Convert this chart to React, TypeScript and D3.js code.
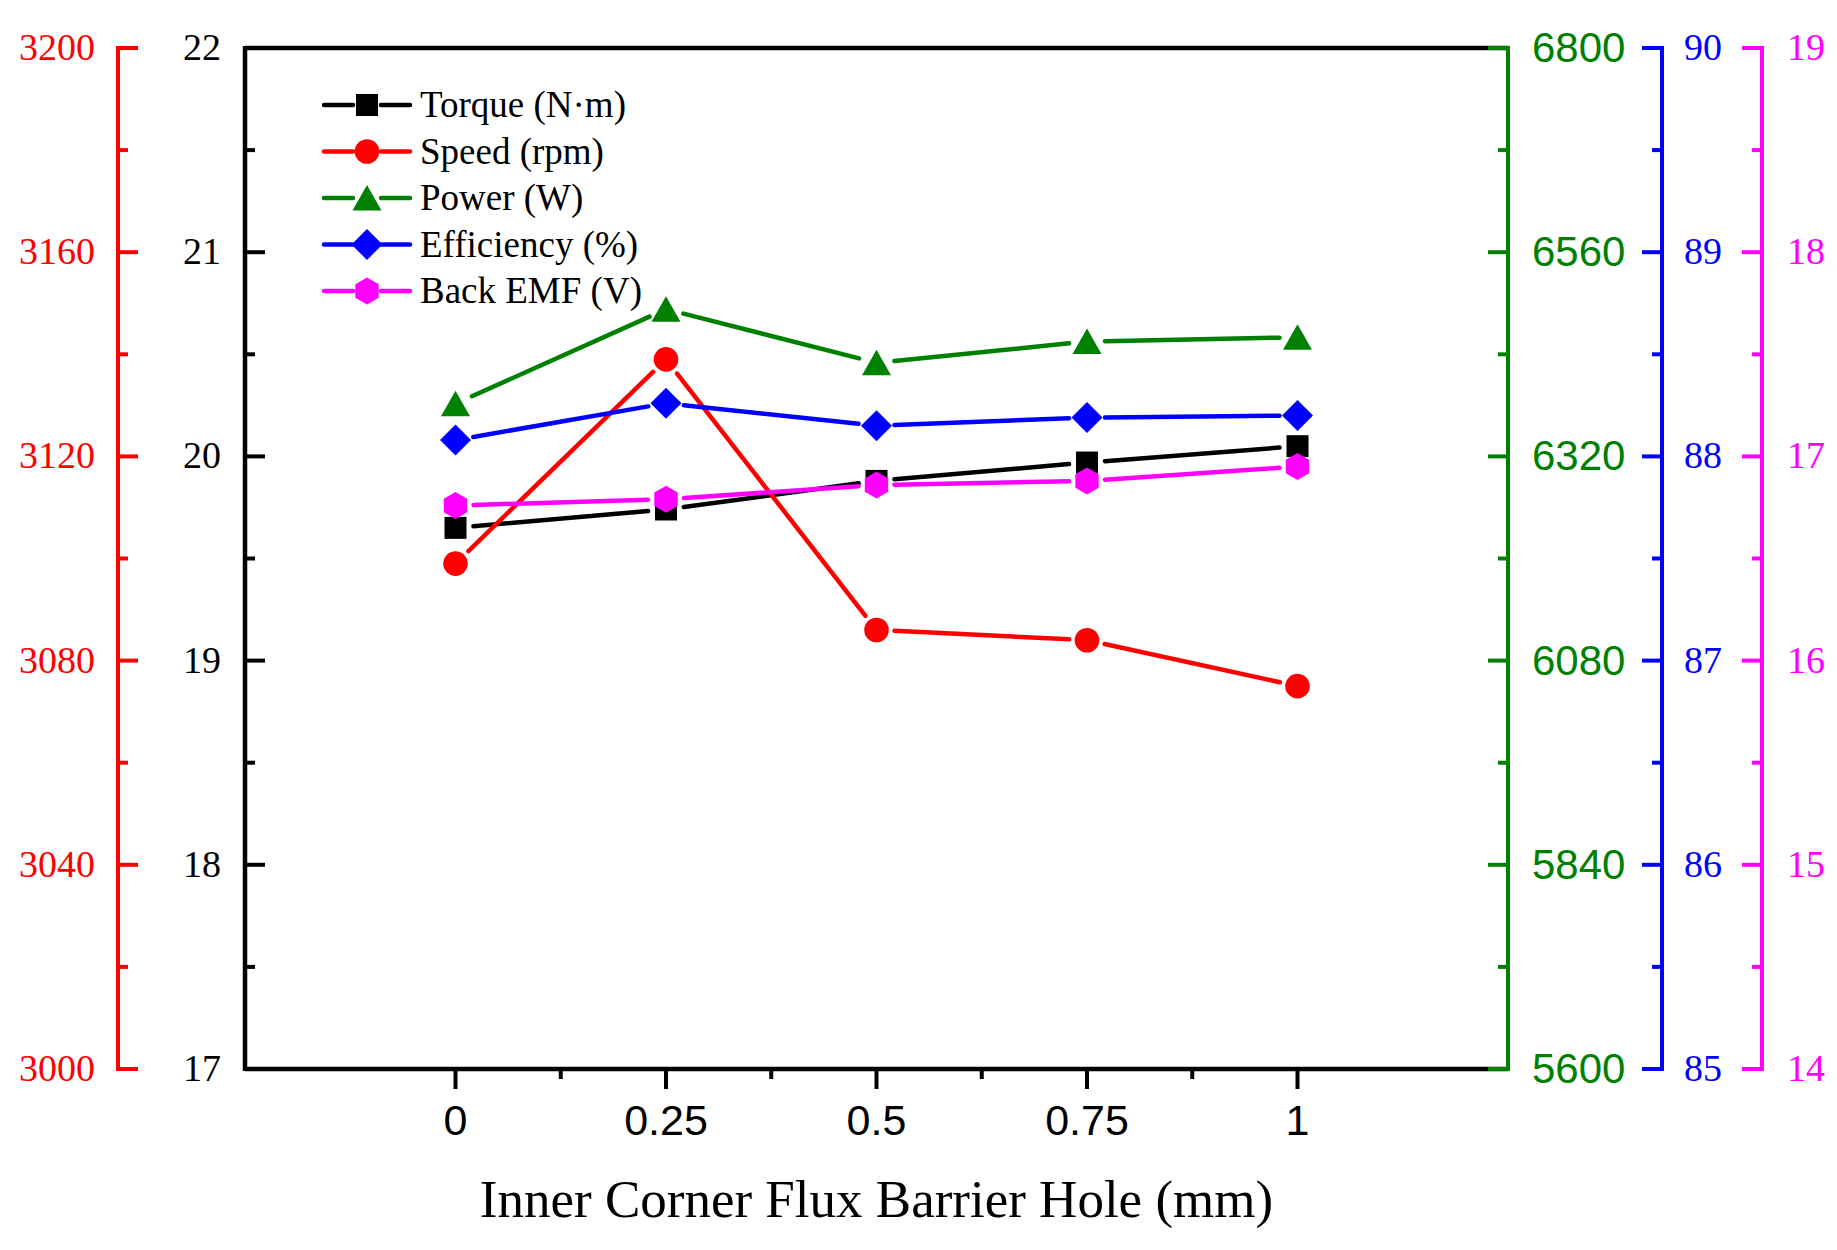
import React from "react";
import { scaleLinear, line } from "d3";

// x positions (mm) and the five measured series
const holeSizes = [0, 0.25, 0.5, 0.75, 1];
const xTickLabels = ["0", "0.25", "0.5", "0.75", "1"];
const torque = [19.65, 19.74, 19.88, 19.97, 20.05];
const speed = [3099, 3139, 3086, 3084, 3075];
const power = [6382, 6493, 6430, 6455, 6460];
const efficiency = [88.08, 88.26, 88.15, 88.19, 88.2];
const backEmf = [16.76, 16.79, 16.86, 16.88, 16.95];

const torqueTicks = [17, 18, 19, 20, 21, 22];
const speedTicks = [3000, 3040, 3080, 3120, 3160, 3200];
const powerTicks = [5600, 5840, 6080, 6320, 6560, 6800];
const effTicks = [85, 86, 87, 88, 89, 90];
const emfTicks = [14, 15, 16, 17, 18, 19];

const W = 1837;
const H = 1250;
const left = 245;
const right = 1508;
const top = 48;
const bottom = 1069;

const SERIF = "'Liberation Serif', 'Times New Roman', serif";
const SANS = "'Liberation Sans', Arial, sans-serif";

const x = scaleLinear().domain([-0.25, 1.25]).range([left, right]);
const yTorque = scaleLinear().domain([17, 22]).range([bottom, top]);
const ySpeed = scaleLinear().domain([3000, 3200]).range([bottom, top]);
const yPower = scaleLinear().domain([5600, 6800]).range([bottom, top]);
const yEff = scaleLinear().domain([85, 90]).range([bottom, top]);
const yEmf = scaleLinear().domain([14, 19]).range([bottom, top]);

type Shape = "square" | "circle" | "triangle" | "diamond" | "hexagon";

const marker = (shape: Shape, cx: number, cy: number) => {
  switch (shape) {
    case "square":
      return `M${cx - 11},${cy - 11}h22v22h-22Z`;
    case "circle":
      return `M${cx - 12.3},${cy}a12.3,12.3 0 1,0 24.6,0a12.3,12.3 0 1,0 -24.6,0Z`;
    case "triangle":
      return `M${cx},${cy - 13}L${cx + 14.5},${cy + 12.5}L${cx - 14.5},${cy + 12.5}Z`;
    case "diamond":
      return `M${cx},${cy - 15.5}L${cx + 15.5},${cy}L${cx},${cy + 15.5}L${cx - 15.5},${cy}Z`;
    case "hexagon": {
      const r = 13.5;
      const pts = [0, 1, 2, 3, 4, 5].map((i) => {
        const a = -Math.PI / 2 + (i * Math.PI) / 3;
        return `${cx + r * Math.cos(a)},${cy + r * Math.sin(a)}`;
      });
      return `M${pts.join("L")}Z`;
    }
  }
};

const series = [
  { name: "Torque (N·m)", values: torque, y: yTorque, color: "#000000", shape: "square" as Shape },
  { name: "Speed (rpm)", values: speed, y: ySpeed, color: "#FF0000", shape: "circle" as Shape },
  { name: "Power (W)", values: power, y: yPower, color: "#008000", shape: "triangle" as Shape },
  { name: "Efficiency (%)", values: efficiency, y: yEff, color: "#0000FF", shape: "diamond" as Shape },
  { name: "Back EMF (V)", values: backEmf, y: yEmf, color: "#FF00FF", shape: "hexagon" as Shape },
];

// line segments with a small gap around each symbol, like Origin draws them
const gapped = (pts: [number, number][], gap: number) => {
  const segs: string[] = [];
  const seg = line();
  for (let i = 0; i < pts.length - 1; i++) {
    const [x0, y0] = pts[i];
    const [x1, y1] = pts[i + 1];
    const len = Math.hypot(x1 - x0, y1 - y0);
    const ux = (x1 - x0) / len;
    const uy = (y1 - y0) / len;
    segs.push(
      seg([
        [x0 + ux * gap, y0 + uy * gap],
        [x1 - ux * gap, y1 - uy * gap],
      ]) as string
    );
  }
  return segs;
};

const mids = (ticks: number[]) => ticks.slice(0, -1).map((t, i) => (t + ticks[i + 1]) / 2);

type AxisProps = {
  ticks: number[];
  scale: (v: number) => number;
  ax: number;
  dir: 1 | -1; // tick direction in x
  color: string;
  labelX: number;
  anchor: "start" | "end";
  font: string;
  size: number;
  dy: number;
  drawLine?: boolean;
};

const YAxis = ({ ticks, scale, ax, dir, color, labelX, anchor, font, size, dy, drawLine = true }: AxisProps) => (
  <g>
    {drawLine && (
      <line x1={ax} x2={ax} y1={scale(ticks[0]) + 2} y2={scale(ticks[ticks.length - 1]) - 2} stroke={color} strokeWidth={4} />
    )}
    {ticks.map((t) => (
      <line key={"M" + t} x1={ax} x2={ax + dir * 20} y1={scale(t)} y2={scale(t)} stroke={color} strokeWidth={4} />
    ))}
    {mids(ticks).map((t) => (
      <line key={"m" + t} x1={ax} x2={ax + dir * 10} y1={scale(t)} y2={scale(t)} stroke={color} strokeWidth={4} />
    ))}
    {ticks.map((t) => (
      <text key={"l" + t} x={labelX} y={scale(t) + dy} fill={color} fontFamily={font} fontSize={size} textAnchor={anchor}>
        {t}
      </text>
    ))}
  </g>
);

export default function App() {
  return (
    <svg width={W} height={H} style={{ position: "absolute", left: 0, top: 0, background: "#fff" }}>
      <rect width={W} height={H} fill="#fff" />

      {/* frame */}
      <line x1={left} x2={right} y1={top} y2={top} stroke="#000" strokeWidth={4.5} />
      <line x1={left} x2={right} y1={bottom} y2={bottom} stroke="#000" strokeWidth={4.5} />
      <line x1={left} x2={left} y1={top - 2} y2={bottom + 2} stroke="#000" strokeWidth={4.5} />

      {/* x axis ticks */}
      {holeSizes.map((v) => (
        <line key={"xt" + v} x1={x(v)} x2={x(v)} y1={bottom} y2={bottom + 20} stroke="#000" strokeWidth={4} />
      ))}
      {mids(holeSizes).map((v) => (
        <line key={"xm" + v} x1={x(v)} x2={x(v)} y1={bottom} y2={bottom + 10} stroke="#000" strokeWidth={4} />
      ))}
      {holeSizes.map((v, i) => (
        <text key={"xl" + v} x={x(v)} y={1135} fontFamily={SANS} fontSize={43} textAnchor="middle" fill="#000">
          {xTickLabels[i]}
        </text>
      ))}
      <text x={(left + right) / 2} y={1217} fontFamily={SERIF} fontSize={53} textAnchor="middle" fill="#000">
        Inner Corner Flux Barrier Hole (mm)
      </text>

      {/* y axes */}
      <YAxis ticks={torqueTicks} scale={yTorque} ax={left} dir={1} color="#000" labelX={221} anchor="end" font={SERIF} size={38} dy={12} drawLine={false} />
      <YAxis ticks={speedTicks} scale={ySpeed} ax={118} dir={1} color="#FF0000" labelX={95} anchor="end" font={SERIF} size={38} dy={12} />
      <YAxis ticks={powerTicks} scale={yPower} ax={right} dir={-1} color="#008000" labelX={1532} anchor="start" font={SANS} size={42} dy={14} />
      <YAxis ticks={effTicks} scale={yEff} ax={1662} dir={-1} color="#0000FF" labelX={1684} anchor="start" font={SERIF} size={38} dy={12} />
      <YAxis ticks={emfTicks} scale={yEmf} ax={1762} dir={-1} color="#FF00FF" labelX={1787} anchor="start" font={SERIF} size={38} dy={12} />

      {/* series */}
      {series.map((s) => {
        const pts = s.values.map((v, i) => [x(holeSizes[i]), s.y(v)] as [number, number]);
        return (
          <g key={s.name}>
            {gapped(pts, 18).map((d, i) => (
              <path key={i} d={d} stroke={s.color} strokeWidth={4.5} fill="none" strokeLinecap="round" />
            ))}
            {pts.map(([px, py], i) => (
              <path key={"p" + i} d={marker(s.shape, px, py)} fill={s.color} />
            ))}
          </g>
        );
      })}

      {/* legend */}
      {series.map((s, i) => {
        const cy = 105 + i * 46.5;
        return (
          <g key={"lg" + s.name}>
            <line x1={324} x2={353} y1={cy} y2={cy} stroke={s.color} strokeWidth={4.5} strokeLinecap="round" />
            <line x1={381} x2={410} y1={cy} y2={cy} stroke={s.color} strokeWidth={4.5} strokeLinecap="round" />
            <path d={marker(s.shape, 367, cy)} fill={s.color} />
            <text x={420} y={cy + 12} fontFamily={SERIF} fontSize={37} fill="#000">
              {s.name}
            </text>
          </g>
        );
      })}
    </svg>
  );
}
